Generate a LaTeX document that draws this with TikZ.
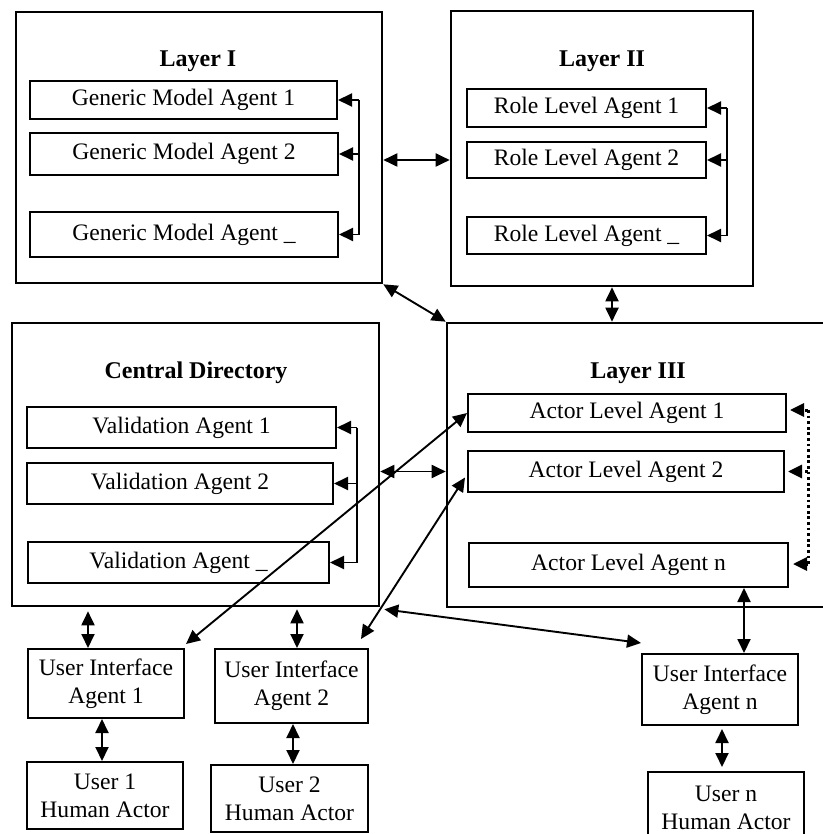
\documentclass[tikz,border=0pt]{standalone}
\usepackage{fontspec}
\setmainfont{Liberation Serif}
\usetikzlibrary{arrows.meta,calc}
\newcommand\abox[7][ibox]{%
  \node[#1, minimum width={(#5-#3)*0.5pt}, minimum height={(#6-#4)*0.5pt}]
    (#2) at ({(#3+#5)/2},{(#4+#6)/2}) {#7};}
\begin{document}
\begin{tikzpicture}[x=0.5pt,y=-0.5pt,
 obox/.style={draw, line width=1.3pt, inner sep=0pt},
 ibox/.style={draw, line width=1pt, inner sep=0pt, font=\fontsize{11.8}{14}\selectfont, align=center},
 ttl/.style={font=\fontsize{12}{14}\selectfont\bfseries, inner sep=0pt},
 arr/.style={line width=0.95pt, -{Triangle[length=7pt,width=6.5pt]}},
 darr/.style={line width=0.95pt, {Triangle[length=7pt,width=6.5pt]}-{Triangle[length=7pt,width=6.5pt]}},
 brk/.style={line width=1pt},
 dotl/.style={line width=1.5pt, dash pattern=on 1.4pt off 1.4pt},
]
\useasboundingbox (0,0) rectangle (823,834);
% outer boxes
\abox[obox]{L1}{16}{12}{382}{283}{}
\abox[obox]{L2}{451}{11}{753}{286}{}
\abox[obox]{L3}{447}{323}{830}{607}{}
\abox[obox]{CD}{12}{323}{379}{606}{}
% titles
\node[ttl] (t1) at (198,61) {Layer I};
\node[ttl] (t2) at (602,61) {Layer II};
\node[ttl] (t3) at (638,373) {Layer III};
\node[ttl] (t4) at (196,373) {Central Directory};
% inner boxes
\abox{GM1}{30}{81}{337}{119}{Generic Model Agent 1}
\abox{GM2}{30}{133}{338}{175}{Generic Model Agent 2}
\abox{GM3}{30}{212}{338}{257}{Generic Model Agent \_}
\abox{RL1}{467}{89}{706}{127}{Role Level Agent 1}
\abox{RL2}{467}{142}{706}{178}{Role Level Agent 2}
\abox{RL3}{467}{217}{706}{254}{Role Level Agent \_}
\abox{VA1}{27}{407}{336}{448}{Validation Agent 1}
\abox{VA2}{27}{463}{333}{504}{Validation Agent 2}
\abox{VA3}{28}{542}{329}{583}{Validation Agent \_}
\abox{AL1}{468}{394}{786}{432}{Actor Level Agent 1}
\abox{AL2}{468}{451}{784}{492}{Actor Level Agent 2}
\abox{AL3}{469}{543}{788}{587}{Actor Level Agent n}
\abox{UI1}{28}{649}{184}{718}{User Interface\\Agent 1}
\abox{UI2}{215}{649}{368}{723}{User Interface\\Agent 2}
\abox{UI3}{642}{654}{798}{725}{User Interface\\Agent n}
\abox{U1}{27}{762}{183}{829}{User 1\\Human Actor}
\abox{U2}{211}{765}{368}{832}{User 2\\Human Actor}
\abox{U3}{648}{772}{804}{844}{User n\\Human Actor}
% brackets Layer I
\coordinate (gx) at (359,0);
\coordinate (g1) at (GM1.east -| gx);
\coordinate (g2) at (GM2.east -| gx);
\coordinate (g3) at (GM3.east -| gx);
\draw[brk] (g1) -- (g3);
\draw[arr] (g1) -- (GM1.east);
\draw[arr] (g2) -- (GM2.east);
\draw[arr] (g3) -- (GM3.east);
% brackets Layer II
\coordinate (rx) at (727,0);
\coordinate (r1) at (RL1.east -| rx);
\coordinate (r2) at (RL2.east -| rx);
\coordinate (r3) at (RL3.east -| rx);
\draw[brk] (r1) -- (r3);
\draw[arr] (r1) -- (RL1.east);
\draw[arr] (r2) -- (RL2.east);
\draw[arr] (r3) -- (RL3.east);
% brackets Central Directory
\coordinate (vx) at (357,0);
\coordinate (v1) at (VA1.east -| vx);
\coordinate (v2) at (VA2.east -| vx);
\coordinate (v3) at (VA3.east -| vx);
\draw[brk] (v1) -- (v3);
\draw[arr] (v1) -- (VA1.east);
\draw[arr] (v2) -- (VA2.east);
\draw[arr] (v3) -- (VA3.east);
% dotted bracket Layer III
\coordinate (ax) at (808,0);
\coordinate (a1) at ([yshift=1.5pt]AL1.east -| ax);
\coordinate (a2) at (AL2.east -| ax);
\coordinate (a3) at ([yshift=0.5pt]AL3.east -| ax);
\draw[dotl] (a1) -- (a3);
\draw[dotl, -{Triangle[length=7pt,width=6.5pt]}] (a1) -- ([xshift=1.5pt]AL1.east |- a1);
\draw[dotl, -{Triangle[length=7pt,width=6.5pt]}] (a2) -- ([xshift=1.5pt]AL2.east);
\draw[dotl, -{Triangle[length=7pt,width=6.5pt]}] (a3) -- ([xshift=2pt]AL3.east |- a3);
% layer connectors
\coordinate (m12) at (415,160);
\draw[darr] (L1.east |- m12) -- (L2.west |- m12);
\coordinate (m23) at (612,300);
\draw[darr] (L2.south -| m23) -- (L3.north -| m23);
\draw[darr] (L1.south east) -- (L3.north west);
\draw[darr] (CD.east |- AL2.west) -- (L3.west |- AL2.west);
% bottom connectors
\coordinate (c1) at (88,0);
\coordinate (c2) at (297,0);
\draw[darr, shorten <=2pt] (CD.south -| c1) -- (UI1.north -| c1);
\draw[darr, shorten <=1pt] (CD.south -| c2) -- (UI2.north -| c2);
\coordinate (c3) at (102,0);
\coordinate (c4) at (293,0);
\draw[darr] (UI1.south -| c3) -- (U1.north -| c3);
\draw[darr] (UI2.south -| c4) -- (U2.north -| c4);
\coordinate (c5) at (744,0);
\coordinate (c6) at (722,0);
\draw[darr] (AL3.south -| c5) -- (UI3.north -| c5);
\draw[darr, shorten <=1.5pt, shorten >=2pt] (UI3.south -| c6) -- (U3.north -| c6);
\draw[darr] ([xshift=0.5pt,yshift=2pt]UI1.north east) -- (AL1.west);
\draw[darr] ([xshift=-4pt,yshift=4.5pt]UI2.north east) -- ([xshift=-1pt,yshift=-3pt]AL2.west);
\draw[darr] ([xshift=2pt,yshift=-1pt]CD.south east) -- ([yshift=5pt]UI3.north west);
\end{tikzpicture}
\end{document}
